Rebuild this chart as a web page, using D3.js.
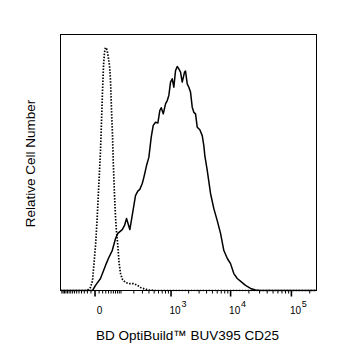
<!DOCTYPE html>
<html><head><meta charset="utf-8">
<script src="https://cdn.jsdelivr.net/npm/d3@7/dist/d3.min.js"></script>
<style>body{margin:0;background:#fff}svg{display:block}</style>
</head><body>
<svg id="c" width="337" height="360"></svg>
<script>
// Isotype / control (dotted) histogram: fluorescence value, relative count (% of plot height)
const controlX = [-157,-24.3,-15.2,-9.8,-4.7,-1.6,2.3,6.4,9.8,12.5,15.2,18.2,21.2,24.3,27.5,30.9,34.4,38.0,41.8,45.7,49.8,54.0,58.4,61.6,67.7,72.7,77.8,84.7,91.4,100.3,112.8,133.6,165,202,245,281,337,401,541,263000];
const controlY = [0,0,0.4,1.2,3.9,9.8,17.6,28.5,39.1,46.9,54.7,66.4,78.1,87.9,93.0,94.9,94.5,93.0,90.6,87.9,82.0,70.3,60.5,50.8,37.1,28.5,22.7,17.6,10.9,6.6,4.3,3.1,2.7,2.7,2.0,1.2,0.6,0.2,0,0];
// CD25 stained (solid) histogram
const stainedX = [-157,-4.7,2.3,15.2,30.9,43.0,57.1,72.7,84.7,110.9,126.4,141,167.7,189.3,222,248,272,304,326,368,407,451,491,541,596,647,686,745,817,876,934,1000,1070,1140,1220,1305,1390,1486,1589,1738,1807,1931,2055,2195,2345,2495,2665,2845,3145,3450,3667,3811,4180,4742,5380,6126,6950,7880,9000,10160,11520,13110,15840,17950,21700,26220,31680,263000];
const stainedY = [0,0,2.0,4.7,9.8,12.9,15.6,20.3,22.3,23.8,25.4,28.1,23.8,29.3,37.1,38.8,39.5,41.8,44.1,48.8,52.0,59.9,64.5,65.7,65.4,70.3,71.4,69.0,72.9,74.2,76.2,81.4,82.7,79.4,85.9,87.5,86.6,85.3,81.4,85.3,85.7,80.7,79.4,77.5,71.6,69.6,69.0,63.8,62.8,60.5,56.6,52.7,46.9,37.9,32.0,27.3,22.3,15.6,12.5,10.5,6.6,4.7,3.1,2.0,0.8,0.2,0,0];
// Axis ticks
const majorTicks = [0, 1000, 10000, 100000];
const majorLabels = [{base:"0", sup:""},{base:"10", sup:"3"},{base:"10", sup:"4"},{base:"10", sup:"5"}];
const xLabel = "BD OptiBuild™ BUV395 CD25";
const yLabel = "Relative Cell Number";

const svg = d3.select("#c");
const L = 60.5, R = 316.5, T = 34.5, B = 290.5;
const x = d3.scaleSymlog().constant(60).domain([-157, 263000]).range([L, R]);
const y = d3.scaleLinear().domain([0, 100]).range([B, T]);

// minor ticks
const minorTicks = [];
for (let v = -150; v <= 90; v += 10) if (v !== 0) minorTicks.push(v);
[100, 1000, 10000, 100000].forEach(d => { for (let k = 2; k <= 9; k++) { const v = d * k; if (v < 263000) minorTicks.push(v); } });
minorTicks.push(100);

const font = "'Liberation Sans', Arial, sans-serif";

svg.append("g").attr("transform", `translate(0,${B})`)
  .call(d3.axisBottom(x).tickValues(minorTicks).tickSize(3).tickFormat(""))
  .call(g => { g.select(".domain").remove(); g.selectAll("line").attr("stroke", "#000"); });
svg.append("g").attr("transform", `translate(0,${B})`)
  .call(d3.axisBottom(x).tickValues(majorTicks).tickSize(6).tickFormat(""))
  .call(g => { g.select(".domain").remove(); g.selectAll("line").attr("stroke", "#000").attr("stroke-width", 1.6); });

// labels
majorTicks.forEach((v, i) => {
  const lab = majorLabels[i];
  const t = svg.append("text").attr("font-family", font).attr("font-size", 10).attr("fill", "#000").attr("y", 313.5);
  if (lab.sup === "") {
    t.attr("x", x(v) + 5).attr("text-anchor", "middle").text(lab.base);
  } else {
    t.attr("x", x(v) - 1).attr("text-anchor", "start");
    t.append("tspan").text(lab.base);
    t.append("tspan").attr("font-size", 9).attr("dx", 0.8).attr("dy", -6.5).text(lab.sup);
  }
});

const line = d3.line().x(d => x(d[0])).y(d => y(d[1]));
svg.append("clipPath").attr("id", "cp").append("rect").attr("x", L).attr("y", T).attr("width", R - L).attr("height", B - T + 1);

svg.append("path").attr("clip-path", "url(#cp)")
  .datum(controlX.map((v, i) => [v, controlY[i]]))
  .attr("d", line).attr("fill", "none").attr("stroke", "#000").attr("stroke-width", 1.7)
  .attr("stroke-dasharray", "1.5,1.5");
svg.append("path").attr("clip-path", "url(#cp)")
  .datum(stainedX.map((v, i) => [v, stainedY[i]]))
  .attr("d", line).attr("fill", "none").attr("stroke", "#000").attr("stroke-width", 1.5)
  .attr("stroke-linejoin", "round");

svg.append("rect").attr("x", L).attr("y", T).attr("width", R - L).attr("height", B - T)
  .attr("fill", "none").attr("stroke", "#000").attr("stroke-width", 1);

svg.append("text").attr("font-family", font).attr("font-size", 13.5).attr("text-anchor", "middle")
  .attr("x", 187.5).attr("y", 340).text(xLabel);
svg.append("text").attr("font-family", font).attr("font-size", 13.5).attr("text-anchor", "middle")
  .attr("transform", "translate(34.5,163.5) rotate(-90)").text(yLabel);
</script>
</body></html>
